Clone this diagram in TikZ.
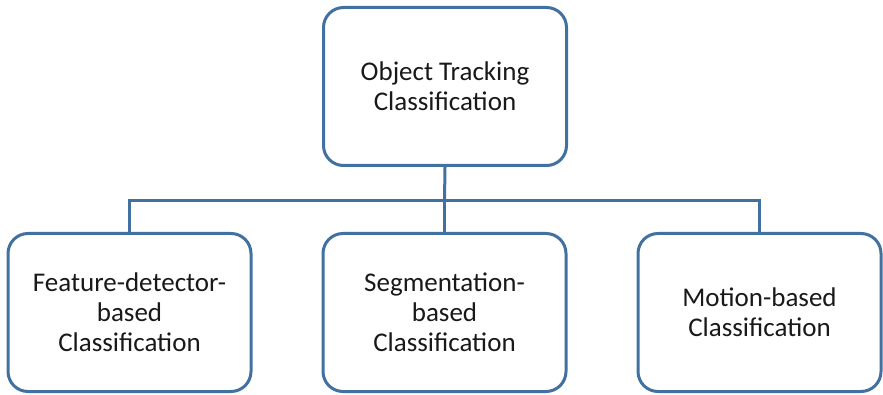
\documentclass[tikz,border=0pt]{standalone}
\usepackage{fontspec}
\setmainfont{Carlito}
\definecolor{boxline}{RGB}{65,113,160}
\begin{document}
\begin{tikzpicture}[x=1pt,y=-1pt,
  catbox/.style={draw=boxline,line width=3pt,rounded corners=20pt,fill=white,
    minimum width=243pt,minimum height=158pt,align=center,inner sep=0pt,
    font=\fontsize{27}{30}\selectfont,text=black!90},
  link/.style={draw=boxline,line width=3pt}]
\useasboundingbox (0,0) rectangle (883,395);
\node[catbox] (top) at (445,86.5) {Object Tracking\\Classification};
\node[catbox] (left) at (129.5,312.5) {Feature-detector-\\based\\Classification};
\node[catbox] (mid) at (444.5,312.5) {Segmentation-\\based\\Classification};
\node[catbox] (right) at (759.5,312.5) {Motion-based\\Classification};
\coordinate (j) at (444.5,201);
\draw[link] (top.south) -- (j);
\draw[link] (j) -- (mid.north);
\draw[link] (left.north) |- (j);
\draw[link] (right.north) |- (j);
\end{tikzpicture}
\end{document}
